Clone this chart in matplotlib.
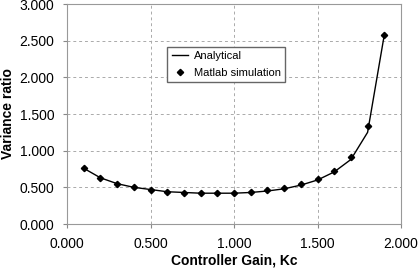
import matplotlib.pyplot as plt
from matplotlib.ticker import FormatStrFormatter

plt.rcParams['font.family'] = ['Liberation Sans', 'DejaVu Sans']

kc = [0.1, 0.2, 0.3, 0.4, 0.5, 0.6, 0.7, 0.8, 0.9, 1.0,
      1.1, 1.2, 1.3, 1.4, 1.5, 1.6, 1.7, 1.8, 1.9]
analytical = [0.76, 0.63, 0.55, 0.50, 0.47, 0.44, 0.43, 0.42, 0.42, 0.42,
              0.43, 0.45, 0.48, 0.53, 0.60, 0.71, 0.88, 1.25, 2.58]
simulation = [0.76, 0.63, 0.55, 0.50, 0.47, 0.44, 0.42, 0.42, 0.42, 0.42,
              0.43, 0.46, 0.49, 0.54, 0.61, 0.72, 0.92, 1.33, 2.58]

fig = plt.figure(figsize=(4.2, 2.68), dpi=100)
ax = fig.add_axes([67 / 420, 1 - 224 / 268, (401 - 67) / 420, 220 / 268])

ax.plot(kc, analytical, color='black', linewidth=1.0, label='Analytical')
ax.plot(kc, simulation, linestyle='none', marker='D', markersize=3.2,
        color='black', label='Matlab simulation')

ax.set_xlim(0, 2.0)
ax.set_ylim(0, 3.0)
ax.set_xticks([0, 0.5, 1.0, 1.5, 2.0])
ax.set_yticks([0, 0.5, 1.0, 1.5, 2.0, 2.5, 3.0])
ax.xaxis.set_major_formatter(FormatStrFormatter('%.3f'))
ax.yaxis.set_major_formatter(FormatStrFormatter('%.3f'))
ax.tick_params(labelsize=10, length=3, color='#888888', pad=6)
ax.grid(True, linestyle=(0, (3, 3)), color='#aaaaaa', linewidth=0.7)
for s in ax.spines.values():
    s.set_color('#999999')
    s.set_linewidth(0.8)

ax.set_xlabel('Controller Gain, Kc', fontsize=10, fontweight='bold', labelpad=2)
ax.set_ylabel('Variance ratio', fontsize=10, fontweight='bold', labelpad=3)

ax.legend(loc='upper left', bbox_to_anchor=(0.30, 0.805), fontsize=8,
          frameon=True, fancybox=False, edgecolor='#666666', framealpha=1,
          handlelength=1.5, handletextpad=0.5, borderpad=0.4,
          labelspacing=0.6, borderaxespad=0)

plt.savefig('out.png', dpi=100)
